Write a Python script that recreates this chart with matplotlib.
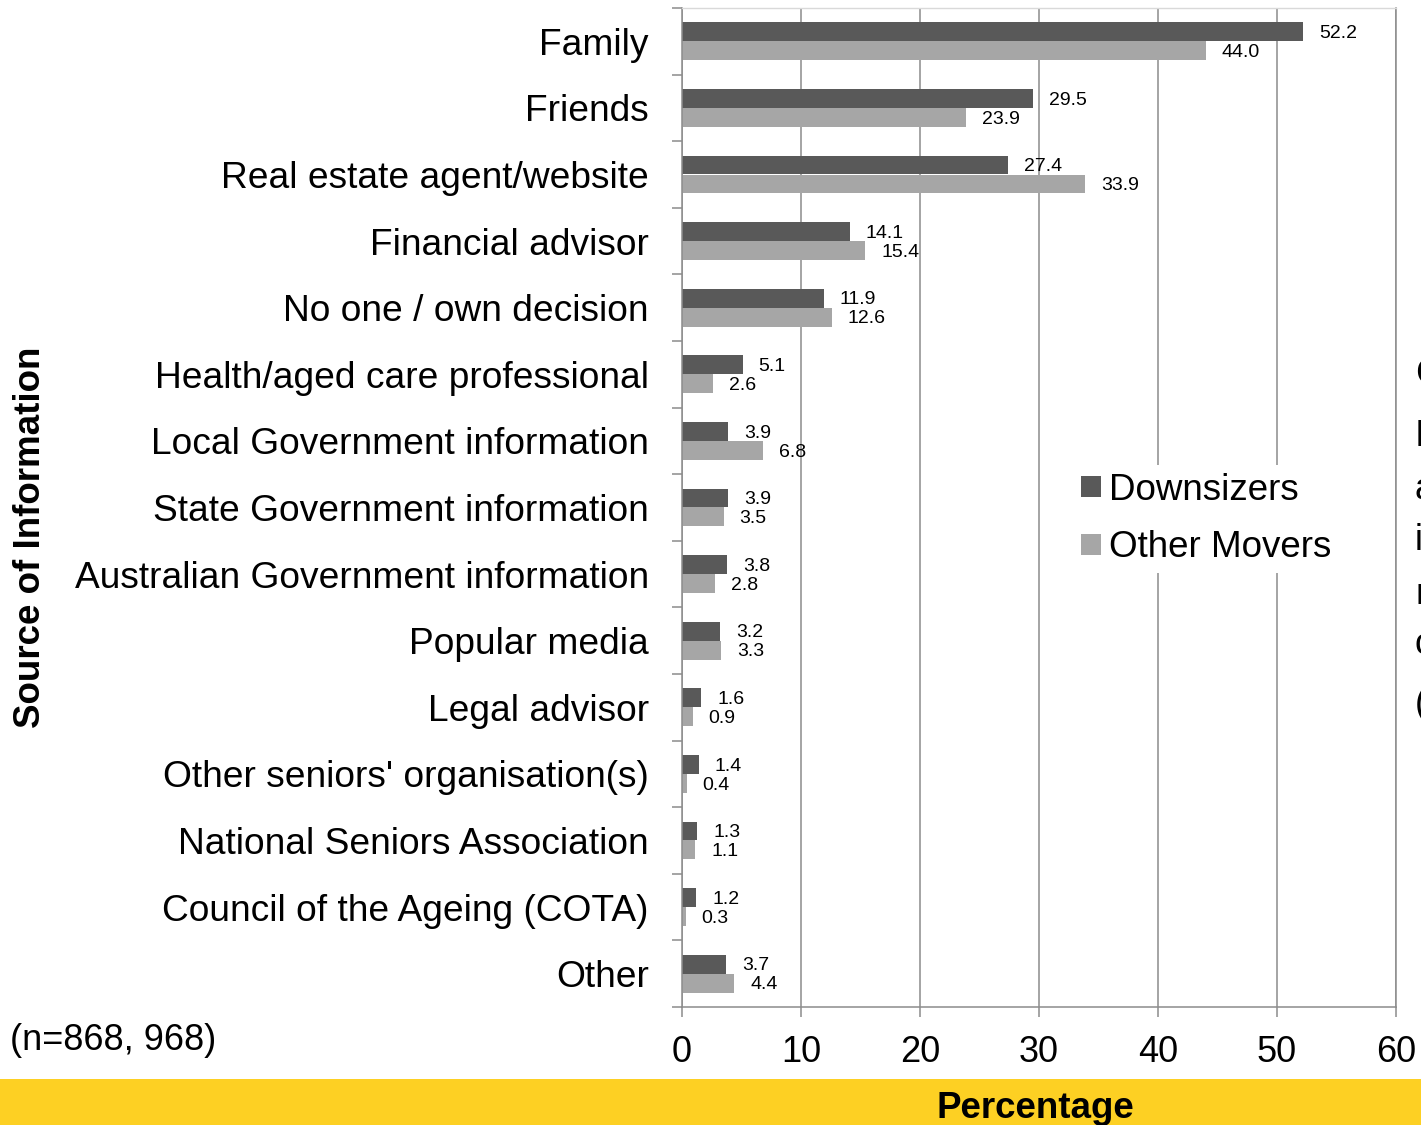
import matplotlib
matplotlib.use("Agg")
from matplotlib import pyplot as plt
from matplotlib.patches import Rectangle
import numpy as np

plt.rcParams['font.family'] = ['Liberation Sans', 'DejaVu Sans']

categories = ["Family", "Friends", "Real estate agent/website", "Financial advisor",
              "No one / own decision", "Health/aged care professional",
              "Local Government information", "State Government information",
              "Australian Government information", "Popular media", "Legal advisor",
              "Other seniors' organisation(s)", "National Seniors Association",
              "Council of the Ageing (COTA)", "Other"]
downsizers = [52.2, 29.5, 27.4, 14.1, 11.9, 5.1, 3.9, 3.9, 3.8, 3.2, 1.6, 1.4, 1.3, 1.2, 3.7]
other_movers = [44.0, 23.9, 33.9, 15.4, 12.6, 2.6, 6.8, 3.5, 2.8, 3.3, 0.9, 0.4, 1.1, 0.3, 4.4]
series_names = ["Downsizers", "Other Movers"]
xticks = [0, 10, 20, 30, 40, 50, 60]
# letters of the next slide that show at the right edge
edge_letters = ["C", "I", "a", "i", "r", "c", "("]
edge_y = [375, 437, 490, 540, 595, 645, 705]

W, H = 1421, 1125
fig = plt.figure(figsize=(W / 100, H / 100), dpi=100)
ax = fig.add_axes([682 / W, 1 - 1007 / H, (1396 - 682) / W, (1007 - 8) / H])

grid_col = "#8c8c8c"
dark = "#595959"
light = "#a6a6a6"

y = np.arange(len(categories))
h = 0.285
b1 = ax.barh(y - h / 2, downsizers, height=h, color=dark, label=series_names[0], zorder=2)
b2 = ax.barh(y + h / 2, other_movers, height=h, color=light, label=series_names[1], zorder=2)

for bars, vals in [(b1, downsizers), (b2, other_movers)]:
    for bar, v in zip(bars, vals):
        ax.annotate(f"{v:.1f}", (bar.get_width(), bar.get_y() + bar.get_height() / 2),
                    xytext=(11.5, -1.2), textcoords="offset points",
                    ha="left", va="center", fontsize=14, color="black", zorder=3)

ax.set_xlim(0, 60)
ax.set_ylim(len(categories) - 0.5, -0.5)
ax.set_xticks(xticks)
ax.set_xticklabels([str(t) for t in xticks], fontsize=26)
ax.set_yticks(y)
ax.set_yticklabels(categories, fontsize=26.7)
ax.set_yticks(np.arange(len(categories) + 1) - 0.5, minor=True)
ax.tick_params(axis="y", which="major", length=0, pad=24)
ax.tick_params(axis="y", which="minor", length=7, width=1.1, color=grid_col, direction="out")
ax.tick_params(axis="x", length=7, width=1.1, color=grid_col, pad=13)

ax.grid(axis="x", color=grid_col, linewidth=1.1, zorder=0)
ax.set_axisbelow(True)
for side in ["left", "right", "bottom"]:
    ax.spines[side].set_color(grid_col)
    ax.spines[side].set_linewidth(1.1)
ax.spines["top"].set_color("#d9d9d9")
ax.spines["top"].set_linewidth(1.0)

leg = ax.legend(loc="center left", bbox_to_anchor=(1074 / W, 1 - 519 / H),
                bbox_transform=fig.transFigure, fontsize=26.5, frameon=True,
                handlelength=0.52, handleheight=0.52, handletextpad=0.22,
                labelspacing=0.62, borderpad=0.2, borderaxespad=0)
leg.get_frame().set_facecolor("white")
leg.get_frame().set_edgecolor("none")
leg.get_frame().set_alpha(1)

fig.text(31 / W, 1 - 537 / H, "Source of Information", rotation=90,
         fontsize=26.5, fontweight="bold", ha="center", va="center")
fig.text(10 / W, 1 - 1041 / H, "(n=868, 968)", fontsize=26, ha="left", va="center")

fig.patches.append(Rectangle((0, 0), 1, 46 / H, transform=fig.transFigure,
                             facecolor="#fdd023", edgecolor="none", zorder=0))
fig.text(1035 / W, 1 - 1109 / H, "Percentage", fontsize=26.5, fontweight="bold",
         ha="center", va="center")

for letter, yy in zip(edge_letters, edge_y):
    fig.text(1415 / W, 1 - yy / H, letter, fontsize=26, ha="left", va="center")

fig.savefig("out.png", dpi=100)
